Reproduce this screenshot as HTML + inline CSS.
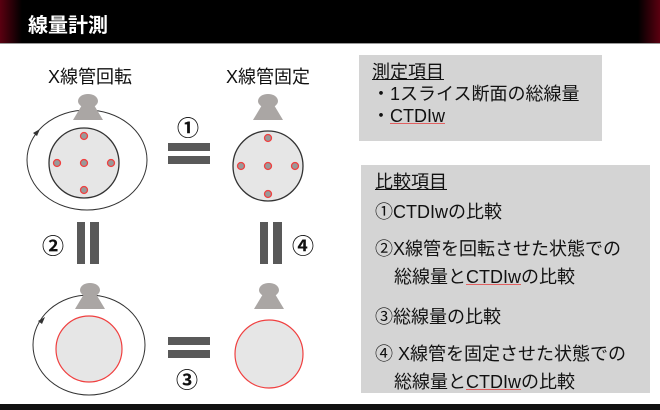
<!DOCTYPE html>
<html><head><meta charset="utf-8"><style>
body{margin:0;width:660px;height:410px;overflow:hidden;background:#fff;font-family:"Liberation Sans","Noto Sans CJK JP",sans-serif;position:relative}
.hdr{position:absolute;left:0;top:0;width:660px;height:43px;background:linear-gradient(90deg,#5a0010 0,#000 22px,#000 638px,#5a0010 660px);border-bottom:1px solid #999}
.t{position:absolute;white-space:nowrap;color:#111}
.box{position:absolute;background:#d4d4d4}
.u{text-decoration:underline}
.w{text-decoration:underline;text-decoration-color:#e06060}
.b{font-size:18px}
</style></head><body>
<div class="hdr"></div>
<div class="t" style="left:28px;top:9px;font-size:20px;font-weight:bold;color:#fff">線量計測</div>
<div class="t" style="left:48px;top:63px;font-size:18px">X線管回転</div>
<div class="t" style="left:226px;top:63px;font-size:18px">X線管固定</div>
<svg style="position:absolute;left:0;top:0" width="660" height="410">
<defs><g id="tube"><ellipse cx="0" cy="0" rx="10" ry="7" fill="#aaa6a4"/><polygon points="-6,4 6,4 15,19 -15,19" fill="#aaa6a4"/></g></defs>
<ellipse cx="87" cy="160" rx="60" ry="50" fill="none" stroke="#333" stroke-width="1"/>
<polygon points="33,133 40,129 37,136" fill="#333"/>
<use href="#tube" x="88" y="101"/>
<circle cx="84" cy="163" r="35" fill="#e6e6e6" stroke="#333" stroke-width="1.3"/>
<g fill="#999" stroke="#f04040" stroke-width="1.3">
<circle cx="84" cy="136" r="3.5"/><circle cx="57" cy="163" r="3.5"/><circle cx="84" cy="163" r="3.5"/><circle cx="111" cy="163" r="3.5"/><circle cx="84" cy="190" r="3.5"/>
</g>
<use href="#tube" x="268" y="101"/>
<circle cx="268" cy="166" r="35" fill="#e6e6e6" stroke="#333" stroke-width="1.3"/>
<g fill="#999" stroke="#f04040" stroke-width="1.3">
<circle cx="268" cy="138" r="3.5"/><circle cx="241" cy="166" r="3.5"/><circle cx="268" cy="166" r="3.5"/><circle cx="295" cy="166" r="3.5"/><circle cx="268" cy="194" r="3.5"/>
</g>
<g fill="#595959">
<rect x="168" y="143" width="42" height="8"/><rect x="168" y="156" width="42" height="8"/>
<rect x="77" y="222" width="8" height="42"/><rect x="90" y="222" width="9" height="42"/>
<rect x="260" y="222" width="8" height="42"/><rect x="273" y="222" width="9" height="42"/>
<rect x="168" y="337" width="42" height="8"/><rect x="168" y="350" width="42" height="8"/>
</g>
<ellipse cx="89" cy="345" rx="56" ry="50" fill="none" stroke="#333" stroke-width="1"/>
<polygon points="38,321 45,317 42,324" fill="#333"/>
<use href="#tube" x="90" y="290"/>
<circle cx="89" cy="349" r="33" fill="#e6e6e6" stroke="#f04040" stroke-width="1.2"/>
<use href="#tube" x="269" y="290"/>
<circle cx="269" cy="354" r="34" fill="#e6e6e6" stroke="#f04040" stroke-width="1.2"/>
<rect x="0" y="404" width="660" height="6" fill="#111"/>
</svg>
<div class="t" style="left:177px;top:111px;font-size:22px;font-weight:bold">①</div>
<div class="t" style="left:42px;top:229px;font-size:22px;font-weight:bold">②</div>
<div class="t" style="left:292px;top:229px;font-size:22px;font-weight:bold">④</div>
<div class="t" style="left:176px;top:363px;font-size:22px;font-weight:bold">③</div>
<div class="box" style="left:359px;top:55px;width:243px;height:86px"></div>
<div class="t" style="left:372px;top:61px;font-size:18px;line-height:22px">
<span class="u">測定項目</span><br>・1スライス断面の総線量<br>・<span class="w">CTDIw</span></div>
<div class="box" style="left:361px;top:165px;width:289px;height:228px"></div>
<div class="t b" style="left:375px;top:168px"><span class="u">比較項目</span></div>
<div class="t b" style="left:375px;top:198px">①CTDIwの比較</div>
<div class="t b" style="left:375px;top:235px">②X線管を回転させた状態での</div>
<div class="t b" style="left:394px;top:263px">総線量と<span class="w">CTDIw</span>の比較</div>
<div class="t b" style="left:375px;top:303px">③総線量の比較</div>
<div class="t b" style="left:375px;top:340px">④ X線管を固定させた状態での</div>
<div class="t b" style="left:394px;top:368px">総線量と<span class="w">CTDIw</span>の比較</div>
</body></html>
